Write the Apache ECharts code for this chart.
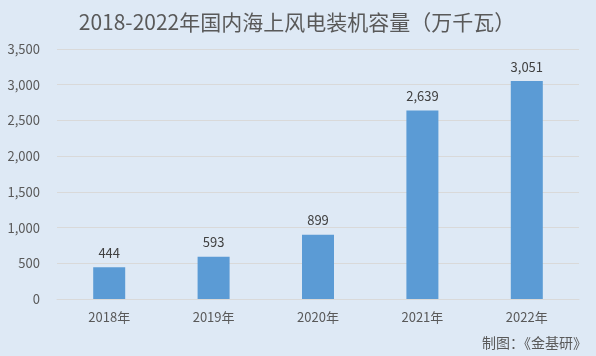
<!DOCTYPE html>
<html><head><meta charset="utf-8">
<script src="https://cdn.jsdelivr.net/npm/echarts@6/dist/echarts.min.js"></script>
<style>html,body{margin:0;padding:0;background:#dee9f5;}#c{width:596px;height:356px;}</style>
</head><body><div id="c"></div>
<script>
const categories = ['2018年','2019年','2020年','2021年','2022年'];
const values = [444, 593, 899, 2639, 3051];
const titleText = '2018-2022年国内海上风电装机容量（万千瓦）';
const footerText = '制图：《金基研》';
const font = '"Noto Sans CJK SC", "Noto Sans", sans-serif';
const chart = echarts.init(document.getElementById('c'), null, {renderer:'canvas'});
chart.setOption({
  backgroundColor: '#dee9f5',
  animation: false,
  title: [{
    text: titleText, left: 292, top: 7, textAlign: 'center',
    textStyle: {fontFamily: font, fontSize: 21, fontWeight: 'normal', color: '#595959'}
  },{
    text: footerText, right: 4, bottom: 1,
    textStyle: {fontFamily: font, fontSize: 14, fontWeight: 'normal', color: '#595959'}
  }],
  grid: {left: 57, right: 17, top: 49, bottom: 57},
  xAxis: {
    type: 'category', data: categories,
    axisLine: {lineStyle: {color: '#d9d9d9'}},
    axisTick: {show: false},
    axisLabel: {fontFamily: font, fontSize: 13, color: '#595959', margin: 12}
  },
  yAxis: {
    type: 'value', min: 0, max: 3500, interval: 500,
    axisLine: {show: false}, axisTick: {show: false},
    splitLine: {lineStyle: {color: '#d9d9d9'}},
    axisLabel: {fontFamily: font, fontSize: 13, color: '#595959', margin: 17,
      formatter: v => v.toLocaleString('en-US')}
  },
  series: [{
    type: 'bar', data: values, barWidth: 32,
    itemStyle: {color: '#5b9bd5'},
    label: {show: true, position: 'top', distance: 8, fontFamily: font, fontSize: 13, color: '#404040',
      formatter: p => p.value.toLocaleString('en-US')}
  }]
});
</script></body></html>
